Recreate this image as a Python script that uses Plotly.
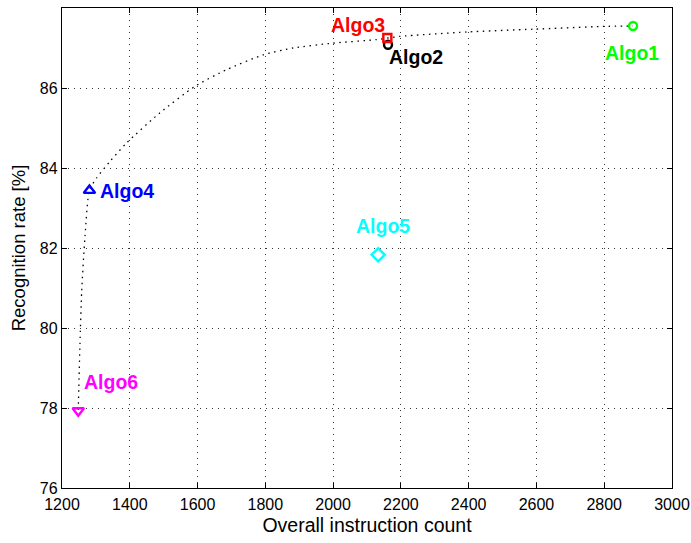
import plotly.graph_objects as go

# ---- data ----
algo_names = ["Algo1", "Algo2", "Algo3", "Algo4", "Algo5", "Algo6"]
algo_x = [2885, 2162, 2160, 1281, 2133, 1248]
algo_y = [87.55, 87.08, 87.25, 83.44, 81.83, 77.93]
algo_colors = ["#00FF00", "#000000", "#FF0000", "#0000FF", "#00FFFF", "#FF00FF"]
algo_symbols = ["circle-open", "circle-open", "square-open", "triangle-up-open",
                "diamond-open", "triangle-down-open"]
algo_sizes = [8, 8, 8, 10, 10, 10]
label_x = [2881, 2246, 2074, 1391, 2148, 1344]
label_y = [86.87, 86.77, 87.58, 83.42, 82.56, 78.64]

curve_x = [1248, 1253, 1258, 1268, 1281, 1302, 1342, 1391, 1489, 1592, 1686,
           1794, 1882, 1998, 2128, 2197, 2394, 2590, 2797, 2885]
curve_y = [77.95, 79.6, 80.9, 82.3, 83.45, 83.75, 84.17, 84.63, 85.38, 86.04, 86.46,
           86.83, 87.0, 87.12, 87.21, 87.29, 87.4, 87.47, 87.54, 87.55]

x_ticks = [1200, 1400, 1600, 1800, 2000, 2200, 2400, 2600, 2800, 3000]
y_ticks = [76, 78, 80, 82, 84, 86, 88]

FONT = "Liberation Sans, Arial, Helvetica, sans-serif"

fig = go.Figure()

fig.add_trace(go.Scatter(
    x=curve_x, y=curve_y, mode="lines",
    line=dict(color="black", width=1.3, dash="1.5px,4.5px", shape="spline", smoothing=0.6),
    hoverinfo="skip", showlegend=False))

for i in range(len(algo_names)):
    fig.add_trace(go.Scatter(
        x=[algo_x[i]], y=[algo_y[i]], mode="markers", name=algo_names[i],
        marker=dict(symbol=algo_symbols[i], size=algo_sizes[i], color=algo_colors[i],
                    line=dict(color=algo_colors[i], width=2.4)),
        showlegend=False))
    fig.add_annotation(
        x=label_x[i], y=label_y[i], text="<b>%s</b>" % algo_names[i], showarrow=False,
        font=dict(family=FONT, size=19.5, color=algo_colors[i]),
        xanchor="center", yanchor="middle")

axis_common = dict(
    showline=True, linecolor="black", linewidth=1.3, mirror="ticks",
    ticks="inside", ticklen=5, tickcolor="black", tickwidth=1,
    showgrid=True, gridcolor="#333333", gridwidth=1, griddash="1px,5px",
    zeroline=False, tickfont=dict(family=FONT, size=16, color="black"),
)

fig.update_xaxes(
    range=[1200, 3000], tickvals=x_ticks, ticktext=[str(v) for v in x_ticks],
    ticklabelstandoff=2,
    title=dict(text="Overall instruction count", font=dict(family=FONT, size=19.5, color="black"),
               standoff=6),
    **axis_common)
fig.update_yaxes(
    range=[76, 88], tickvals=y_ticks, ticktext=[str(v) for v in y_ticks],
    title=dict(text="Recognition rate [%]", font=dict(family=FONT, size=18.5, color="black"),
               standoff=9),
    **axis_common)

fig.update_layout(
    width=691, height=543,
    margin=dict(l=62, r=19, t=8, b=55, autoexpand=False),
    plot_bgcolor="white", paper_bgcolor="white",
    font=dict(family=FONT),
)

fig.write_html("out.html")
